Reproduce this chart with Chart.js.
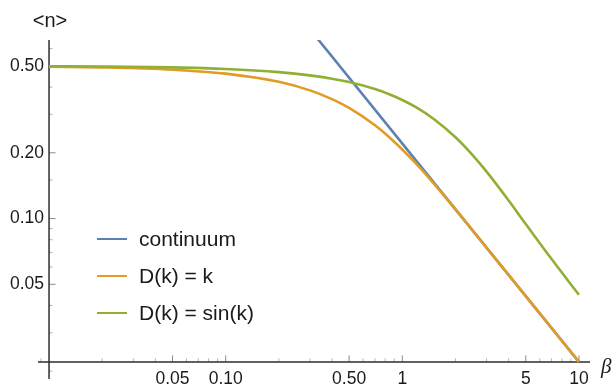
<!DOCTYPE html>
<html><head><meta charset="utf-8">
<script src="https://cdn.jsdelivr.net/npm/chart.js@4.4.1/dist/chart.umd.min.js"></script>
<style>html,body{margin:0;padding:0;background:#fff;overflow:hidden}</style>
</head><body>
<canvas id="c" width="616" height="388" style="width:616px;height:388px;display:block"></canvas>
<script>
// ---- data ----
const seriesLabels = ["continuum", "D(k) = k", "D(k) = sin(k)"];
const continuumBeta = [0.3, 10];
const continuumValues = [0.7355, 0.02206];
const betaValues = [0.01, 0.02, 0.05, 0.1, 0.2, 0.3, 0.4, 0.5, 0.7, 0.85, 1, 1.2, 1.5, 2, 2.5, 3, 4, 5, 7, 10];
const linearValues = [0.49607, 0.49215, 0.48039, 0.46089, 0.42272, 0.38628, 0.35229, 0.32103, 0.26736, 0.23451, 0.20717, 0.17782, 0.14519, 0.11002, 0.08821, 0.07354, 0.05516, 0.04413, 0.03152, 0.02206];
const sineValues = [0.49841, 0.49682, 0.49204, 0.48409, 0.46824, 0.45249, 0.43690, 0.42151, 0.39151, 0.36986, 0.34904, 0.32273, 0.28663, 0.23559, 0.19524, 0.16390, 0.12084, 0.09434, 0.06522, 0.04477];
const xMajorTicks = [0.05, 0.1, 0.5, 1, 5, 10];
const xTickLabels = ["0.05", "0.10", "0.50", "1", "5", "10"];
const xMinorTicks = [0.009, 0.02, 0.03, 0.04, 0.06, 0.07, 0.08, 0.09, 0.2, 0.3, 0.4, 0.6, 0.7, 0.8, 0.9, 2, 3, 4, 6, 7, 8, 9];
const yMajorTicks = [0.5, 0.2, 0.1, 0.05];
const yTickLabels = ["0.50", "0.20", "0.10", "0.05"];
const yMinorTicks = [0.6, 0.4, 0.3, 0.15, 0.09, 0.08, 0.07, 0.06, 0.04, 0.03, 0.02];
const axisCross = [0.01, 0.02206];
const xTitle = "\u03B2";
const yTitle = "<n>";
const seriesColors = ["#5E81B5", "#E19C24", "#8FB032"];

const toPts = (xs, ys) => xs.map((v, i) => ({x: v, y: ys[i]}));

const axesPlugin = {
  id: 'mmaAxes',
  beforeDatasetsDraw(chart) {
    const {ctx, chartArea: a, scales: {x, y}} = chart;
    const ox = x.getPixelForValue(axisCross[0]);
    const oy = y.getPixelForValue(axisCross[1]);
    ctx.save();
    ctx.lineWidth = 1;
    ctx.strokeStyle = '#b4b4b4';
    ctx.beginPath();
    xMinorTicks.forEach(v => { const px = x.getPixelForValue(v); ctx.moveTo(px, oy); ctx.lineTo(px, oy - 3.5); });
    yMinorTicks.forEach(v => { const py = y.getPixelForValue(v); ctx.moveTo(ox, py); ctx.lineTo(ox + 3.5, py); });
    ctx.stroke();
    ctx.strokeStyle = '#8a8a8a';
    ctx.beginPath();
    xMajorTicks.forEach(v => { const px = x.getPixelForValue(v); ctx.moveTo(px, oy); ctx.lineTo(px, oy - 6.5); });
    yMajorTicks.forEach(v => { const py = y.getPixelForValue(v); ctx.moveTo(ox, py); ctx.lineTo(ox + 6.5, py); });
    ctx.stroke();
    ctx.strokeStyle = '#2e2e2e';
    ctx.lineWidth = 1.5;
    ctx.beginPath();
    ctx.moveTo(a.left, oy); ctx.lineTo(a.right, oy);
    ctx.moveTo(ox, a.top); ctx.lineTo(ox, a.bottom);
    ctx.stroke();
    ctx.fillStyle = '#1a1a1a';
    ctx.font = '17.5px "Liberation Sans", Arial, sans-serif';
    ctx.textAlign = 'center';
    ctx.textBaseline = 'middle';
    xMajorTicks.forEach((v, i) => ctx.fillText(xTickLabels[i], x.getPixelForValue(v), oy + 17));
    ctx.textAlign = 'right';
    yMajorTicks.forEach((v, i) => ctx.fillText(yTickLabels[i], ox - 5, y.getPixelForValue(v)));
    ctx.font = '20px "Liberation Sans", Arial, sans-serif';
    ctx.textAlign = 'center';
    ctx.fillText(yTitle, ox + 1, a.top - 19);
    ctx.font = 'italic 21px "Liberation Serif", "DejaVu Serif", serif';
    ctx.textAlign = 'left';
    ctx.fillText(xTitle, a.right + 11, oy + 6);
    ctx.restore();
  },
  afterDraw(chart) {
    const {ctx} = chart;
    ctx.save();
    ctx.font = '21px "Liberation Sans", Arial, sans-serif';
    ctx.textAlign = 'left';
    ctx.textBaseline = 'middle';
    chart.data.datasets.forEach((ds, i) => {
      const ry = 239 + i * 37;
      ctx.strokeStyle = ds.borderColor;
      ctx.lineWidth = 2;
      ctx.beginPath();
      ctx.moveTo(97, ry); ctx.lineTo(127, ry);
      ctx.stroke();
      ctx.fillStyle = '#1a1a1a';
      ctx.fillText(ds.label, 139, ry + 1);
    });
    ctx.restore();
  }
};

new Chart(document.getElementById('c'), {
  type: 'line',
  data: {
    datasets: [
      {label: seriesLabels[0], data: toPts(continuumBeta, continuumValues), borderColor: seriesColors[0], order: 3},
      {label: seriesLabels[1], data: toPts(betaValues, linearValues), borderColor: seriesColors[1], order: 2},
      {label: seriesLabels[2], data: toPts(betaValues, sineValues), borderColor: seriesColors[2], order: 1}
    ]
  },
  options: {
    responsive: false,
    animation: false,
    layout: {padding: {left: 38, right: 26, top: 40, bottom: 9}},
    plugins: {legend: {display: false}, tooltip: {enabled: false}},
    elements: {
      point: {radius: 0, hoverRadius: 0},
      line: {borderWidth: 2.6, fill: false, cubicInterpolationMode: 'monotone', borderCapStyle: 'butt'}
    },
    scales: {
      x: {type: 'logarithmic', min: 0.00866, max: 11.55, bounds: 'data', display: false},
      y: {type: 'logarithmic', min: 0.01842, max: 0.657, bounds: 'data', display: false}
    }
  },
  plugins: [axesPlugin]
});
</script>
</body></html>
